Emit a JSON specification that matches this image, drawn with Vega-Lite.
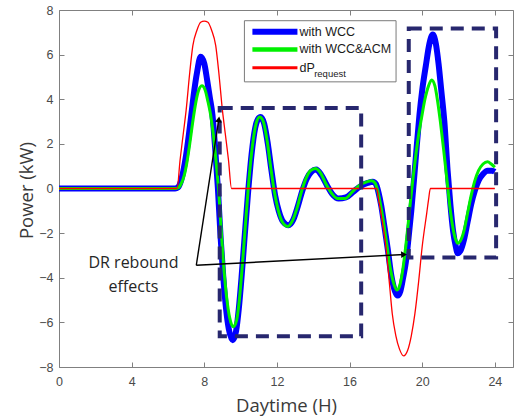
{
  "$schema": "https://vega.github.io/schema/vega-lite/v6.json",
  "width": 454,
  "height": 357,
  "autosize": {"type": "none"},
  "padding": {"left": 59, "top": 10, "right": 2, "bottom": 49},
  "background": "white",
  "config": {
    "view": {"stroke": "#808080", "strokeWidth": 1},
    "axis": {
      "grid": false,
      "domain": false,
      "tickColor": "#808080",
      "tickWidth": 1,
      "tickSize": -5,
      "labelFont": "Liberation Sans",
      "labelFontSize": 12.5,
      "labelColor": "#4a4a4a",
      "titleFont": "Open Sans",
      "titleFontSize": 18.5,
      "titleFontWeight": "normal",
      "titleColor": "#3a3a3a"
    }
  },
  "datasets": {
    "curves": [
      {"series": "with WCC", "t": 0, "p": 0}, {"series": "with WCC", "t": 6.4, "p": 0}, {"series": "with WCC", "t": 6.55, "p": 0.05}, {"series": "with WCC", "t": 6.7, "p": 0.3}, {"series": "with WCC", "t": 6.85, "p": 0.8}, {"series": "with WCC", "t": 7.0, "p": 1.5}, {"series": "with WCC", "t": 7.15, "p": 2.4}, {"series": "with WCC", "t": 7.3, "p": 3.4}, {"series": "with WCC", "t": 7.45, "p": 4.4}, {"series": "with WCC", "t": 7.6, "p": 5.2}, {"series": "with WCC", "t": 7.8, "p": 5.9}, {"series": "with WCC", "t": 8.0, "p": 5.6}, {"series": "with WCC", "t": 8.15, "p": 4.9}, {"series": "with WCC", "t": 8.3, "p": 4.1}, {"series": "with WCC", "t": 8.45, "p": 3.3}, {"series": "with WCC", "t": 8.6, "p": 1.8}, {"series": "with WCC", "t": 8.75, "p": 0.0}, {"series": "with WCC", "t": 8.9, "p": -2.2}, {"series": "with WCC", "t": 9.05, "p": -4.0}, {"series": "with WCC", "t": 9.2, "p": -5.4}, {"series": "with WCC", "t": 9.35, "p": -6.3}, {"series": "with WCC", "t": 9.57, "p": -6.8}, {"series": "with WCC", "t": 9.75, "p": -6.4}, {"series": "with WCC", "t": 9.9, "p": -5.4}, {"series": "with WCC", "t": 10.05, "p": -4.0}, {"series": "with WCC", "t": 10.2, "p": -2.4}, {"series": "with WCC", "t": 10.4, "p": -0.3}, {"series": "with WCC", "t": 10.6, "p": 1.5}, {"series": "with WCC", "t": 10.8, "p": 2.7}, {"series": "with WCC", "t": 10.95, "p": 3.1}, {"series": "with WCC", "t": 11.1, "p": 3.2}, {"series": "with WCC", "t": 11.3, "p": 2.9}, {"series": "with WCC", "t": 11.5, "p": 2.0}, {"series": "with WCC", "t": 11.7, "p": 0.8}, {"series": "with WCC", "t": 11.9, "p": -0.3}, {"series": "with WCC", "t": 12.1, "p": -1.0}, {"series": "with WCC", "t": 12.35, "p": -1.5}, {"series": "with WCC", "t": 12.64, "p": -1.65}, {"series": "with WCC", "t": 12.9, "p": -1.4}, {"series": "with WCC", "t": 13.15, "p": -0.8}, {"series": "with WCC", "t": 13.4, "p": -0.1}, {"series": "with WCC", "t": 13.65, "p": 0.45}, {"series": "with WCC", "t": 13.9, "p": 0.75}, {"series": "with WCC", "t": 14.16, "p": 0.85}, {"series": "with WCC", "t": 14.45, "p": 0.6}, {"series": "with WCC", "t": 14.75, "p": 0.15}, {"series": "with WCC", "t": 15.05, "p": -0.25}, {"series": "with WCC", "t": 15.4, "p": -0.45}, {"series": "with WCC", "t": 15.8, "p": -0.4}, {"series": "with WCC", "t": 16.2, "p": -0.15}, {"series": "with WCC", "t": 16.6, "p": 0.1}, {"series": "with WCC", "t": 17.0, "p": 0.25}, {"series": "with WCC", "t": 17.28, "p": 0.3}, {"series": "with WCC", "t": 17.45, "p": 0.2}, {"series": "with WCC", "t": 17.6, "p": -0.2}, {"series": "with WCC", "t": 17.75, "p": -0.8}, {"series": "with WCC", "t": 17.9, "p": -1.6}, {"series": "with WCC", "t": 18.1, "p": -2.7}, {"series": "with WCC", "t": 18.3, "p": -3.9}, {"series": "with WCC", "t": 18.5, "p": -4.6}, {"series": "with WCC", "t": 18.65, "p": -4.8}, {"series": "with WCC", "t": 18.8, "p": -4.6}, {"series": "with WCC", "t": 18.95, "p": -4.0}, {"series": "with WCC", "t": 19.1, "p": -3.3}, {"series": "with WCC", "t": 19.25, "p": -2.2}, {"series": "with WCC", "t": 19.4, "p": -1.0}, {"series": "with WCC", "t": 19.55, "p": 0.4}, {"series": "with WCC", "t": 19.7, "p": 1.9}, {"series": "with WCC", "t": 19.85, "p": 3.3}, {"series": "with WCC", "t": 20.0, "p": 4.4}, {"series": "with WCC", "t": 20.2, "p": 5.5}, {"series": "with WCC", "t": 20.4, "p": 6.5}, {"series": "with WCC", "t": 20.58, "p": 6.9}, {"series": "with WCC", "t": 20.75, "p": 6.5}, {"series": "with WCC", "t": 20.9, "p": 5.6}, {"series": "with WCC", "t": 21.05, "p": 4.4}, {"series": "with WCC", "t": 21.22, "p": 3.0}, {"series": "with WCC", "t": 21.4, "p": 0.8}, {"series": "with WCC", "t": 21.55, "p": -0.7}, {"series": "with WCC", "t": 21.7, "p": -1.9}, {"series": "with WCC", "t": 21.85, "p": -2.6}, {"series": "with WCC", "t": 21.95, "p": -2.9}, {"series": "with WCC", "t": 22.1, "p": -2.8}, {"series": "with WCC", "t": 22.3, "p": -2.3}, {"series": "with WCC", "t": 22.5, "p": -1.5}, {"series": "with WCC", "t": 22.7, "p": -0.7}, {"series": "with WCC", "t": 22.9, "p": -0.1}, {"series": "with WCC", "t": 23.1, "p": 0.35}, {"series": "with WCC", "t": 23.35, "p": 0.65}, {"series": "with WCC", "t": 23.6, "p": 0.8}, {"series": "with WCC", "t": 23.85, "p": 0.8}, {"series": "with WCC", "t": 24, "p": 0.75},

      {"series": "with WCC&ACM", "t": 0, "p": 0}, {"series": "with WCC&ACM", "t": 6.45, "p": 0}, {"series": "with WCC&ACM", "t": 6.6, "p": 0.05}, {"series": "with WCC&ACM", "t": 6.75, "p": 0.25}, {"series": "with WCC&ACM", "t": 6.9, "p": 0.6}, {"series": "with WCC&ACM", "t": 7.05, "p": 1.2}, {"series": "with WCC&ACM", "t": 7.2, "p": 2.0}, {"series": "with WCC&ACM", "t": 7.35, "p": 2.9}, {"series": "with WCC&ACM", "t": 7.5, "p": 3.7}, {"series": "with WCC&ACM", "t": 7.65, "p": 4.3}, {"series": "with WCC&ACM", "t": 7.87, "p": 4.6}, {"series": "with WCC&ACM", "t": 8.05, "p": 4.4}, {"series": "with WCC&ACM", "t": 8.2, "p": 3.9}, {"series": "with WCC&ACM", "t": 8.35, "p": 3.3}, {"series": "with WCC&ACM", "t": 8.5, "p": 2.4}, {"series": "with WCC&ACM", "t": 8.65, "p": 1.2}, {"series": "with WCC&ACM", "t": 8.8, "p": -0.2}, {"series": "with WCC&ACM", "t": 8.95, "p": -2.1}, {"series": "with WCC&ACM", "t": 9.1, "p": -3.8}, {"series": "with WCC&ACM", "t": 9.25, "p": -5.0}, {"series": "with WCC&ACM", "t": 9.4, "p": -5.8}, {"series": "with WCC&ACM", "t": 9.6, "p": -6.2}, {"series": "with WCC&ACM", "t": 9.78, "p": -5.9}, {"series": "with WCC&ACM", "t": 9.93, "p": -5.0}, {"series": "with WCC&ACM", "t": 10.08, "p": -3.6}, {"series": "with WCC&ACM", "t": 10.25, "p": -1.8}, {"series": "with WCC&ACM", "t": 10.45, "p": 0.3}, {"series": "with WCC&ACM", "t": 10.65, "p": 1.9}, {"series": "with WCC&ACM", "t": 10.85, "p": 2.9}, {"series": "with WCC&ACM", "t": 11.05, "p": 3.2}, {"series": "with WCC&ACM", "t": 11.25, "p": 3.0}, {"series": "with WCC&ACM", "t": 11.45, "p": 2.2}, {"series": "with WCC&ACM", "t": 11.65, "p": 1.0}, {"series": "with WCC&ACM", "t": 11.85, "p": -0.1}, {"series": "with WCC&ACM", "t": 12.05, "p": -0.9}, {"series": "with WCC&ACM", "t": 12.3, "p": -1.5}, {"series": "with WCC&ACM", "t": 12.6, "p": -1.7}, {"series": "with WCC&ACM", "t": 12.85, "p": -1.45}, {"series": "with WCC&ACM", "t": 13.1, "p": -0.9}, {"series": "with WCC&ACM", "t": 13.35, "p": -0.15}, {"series": "with WCC&ACM", "t": 13.6, "p": 0.45}, {"series": "with WCC&ACM", "t": 13.85, "p": 0.8}, {"series": "with WCC&ACM", "t": 14.12, "p": 0.9}, {"series": "with WCC&ACM", "t": 14.4, "p": 0.7}, {"series": "with WCC&ACM", "t": 14.7, "p": 0.2}, {"series": "with WCC&ACM", "t": 15.0, "p": -0.2}, {"series": "with WCC&ACM", "t": 15.35, "p": -0.45}, {"series": "with WCC&ACM", "t": 15.75, "p": -0.45}, {"series": "with WCC&ACM", "t": 16.15, "p": -0.15}, {"series": "with WCC&ACM", "t": 16.55, "p": 0.15}, {"series": "with WCC&ACM", "t": 16.95, "p": 0.3}, {"series": "with WCC&ACM", "t": 17.22, "p": 0.35}, {"series": "with WCC&ACM", "t": 17.4, "p": 0.25}, {"series": "with WCC&ACM", "t": 17.55, "p": -0.1}, {"series": "with WCC&ACM", "t": 17.7, "p": -0.7}, {"series": "with WCC&ACM", "t": 17.85, "p": -1.4}, {"series": "with WCC&ACM", "t": 18.05, "p": -2.5}, {"series": "with WCC&ACM", "t": 18.25, "p": -3.6}, {"series": "with WCC&ACM", "t": 18.45, "p": -4.3}, {"series": "with WCC&ACM", "t": 18.62, "p": -4.55}, {"series": "with WCC&ACM", "t": 18.78, "p": -4.3}, {"series": "with WCC&ACM", "t": 18.92, "p": -3.7}, {"series": "with WCC&ACM", "t": 19.05, "p": -2.9}, {"series": "with WCC&ACM", "t": 19.2, "p": -1.8}, {"series": "with WCC&ACM", "t": 19.35, "p": -0.6}, {"series": "with WCC&ACM", "t": 19.5, "p": 0.5}, {"series": "with WCC&ACM", "t": 19.65, "p": 1.5}, {"series": "with WCC&ACM", "t": 19.8, "p": 2.4}, {"series": "with WCC&ACM", "t": 19.95, "p": 3.1}, {"series": "with WCC&ACM", "t": 20.15, "p": 4.0}, {"series": "with WCC&ACM", "t": 20.35, "p": 4.6}, {"series": "with WCC&ACM", "t": 20.52, "p": 4.86}, {"series": "with WCC&ACM", "t": 20.7, "p": 4.6}, {"series": "with WCC&ACM", "t": 20.85, "p": 3.9}, {"series": "with WCC&ACM", "t": 21.0, "p": 3.0}, {"series": "with WCC&ACM", "t": 21.2, "p": 1.6}, {"series": "with WCC&ACM", "t": 21.4, "p": 0.1}, {"series": "with WCC&ACM", "t": 21.55, "p": -1.0}, {"series": "with WCC&ACM", "t": 21.7, "p": -1.8}, {"series": "with WCC&ACM", "t": 21.85, "p": -2.3}, {"series": "with WCC&ACM", "t": 21.95, "p": -2.45}, {"series": "with WCC&ACM", "t": 22.1, "p": -2.35}, {"series": "with WCC&ACM", "t": 22.3, "p": -1.9}, {"series": "with WCC&ACM", "t": 22.5, "p": -1.1}, {"series": "with WCC&ACM", "t": 22.7, "p": -0.3}, {"series": "with WCC&ACM", "t": 22.9, "p": 0.35}, {"series": "with WCC&ACM", "t": 23.1, "p": 0.8}, {"series": "with WCC&ACM", "t": 23.35, "p": 1.1}, {"series": "with WCC&ACM", "t": 23.6, "p": 1.2}, {"series": "with WCC&ACM", "t": 23.8, "p": 1.1}, {"series": "with WCC&ACM", "t": 24, "p": 0.95},

      {"series": "dPrequest", "t": 0, "p": 0}, {"series": "dPrequest", "t": 6.5, "p": 0}, {"series": "dPrequest", "t": 6.67, "p": 1.3}, {"series": "dPrequest", "t": 6.85, "p": 2.5}, {"series": "dPrequest", "t": 7.0, "p": 3.5}, {"series": "dPrequest", "t": 7.2, "p": 5.2}, {"series": "dPrequest", "t": 7.37, "p": 6.4}, {"series": "dPrequest", "t": 7.6, "p": 7.1}, {"series": "dPrequest", "t": 7.8, "p": 7.45}, {"series": "dPrequest", "t": 8.0, "p": 7.5}, {"series": "dPrequest", "t": 8.2, "p": 7.45}, {"series": "dPrequest", "t": 8.4, "p": 7.1}, {"series": "dPrequest", "t": 8.63, "p": 6.4}, {"series": "dPrequest", "t": 8.8, "p": 5.2}, {"series": "dPrequest", "t": 9.0, "p": 3.5}, {"series": "dPrequest", "t": 9.15, "p": 2.5}, {"series": "dPrequest", "t": 9.33, "p": 1.3}, {"series": "dPrequest", "t": 9.5, "p": 0}, {"series": "dPrequest", "t": 17.5, "p": 0}, {"series": "dPrequest", "t": 17.6, "p": -0.5}, {"series": "dPrequest", "t": 17.75, "p": -1.2}, {"series": "dPrequest", "t": 18.0, "p": -2.6}, {"series": "dPrequest", "t": 18.2, "p": -4.3}, {"series": "dPrequest", "t": 18.35, "p": -5.6}, {"series": "dPrequest", "t": 18.55, "p": -6.6}, {"series": "dPrequest", "t": 18.75, "p": -7.2}, {"series": "dPrequest", "t": 18.98, "p": -7.5}, {"series": "dPrequest", "t": 19.2, "p": -7.25}, {"series": "dPrequest", "t": 19.4, "p": -6.6}, {"series": "dPrequest", "t": 19.6, "p": -5.6}, {"series": "dPrequest", "t": 19.8, "p": -4.2}, {"series": "dPrequest", "t": 20.0, "p": -2.6}, {"series": "dPrequest", "t": 20.25, "p": -1.1}, {"series": "dPrequest", "t": 20.35, "p": -0.5}, {"series": "dPrequest", "t": 20.45, "p": 0}, {"series": "dPrequest", "t": 24, "p": 0}
    ],
    "boxes": [
      {"x0": 8.85, "x1": 16.64, "y0": -6.62, "y1": 3.61},
      {"x0": 19.26, "x1": 24.07, "y0": -3.09, "y1": 7.17}
    ],
    "arrows": [
      {"id": "a1", "x0": 7.56, "y0": -3.44, "x1": 8.8, "y1": 3.1},
      {"id": "a2", "x0": 7.56, "y0": -3.44, "x1": 19.0, "y1": -2.96}
    ],
    "notes": [
      {"x": 4.1, "y": -3.36, "label": "DR rebound"},
      {"x": 4.1, "y": -4.43, "label": "effects"}
    ],
    "legendbox": [
      {"x0": 10.21, "x1": 18.56, "y0": 4.78, "y1": 7.52}
    ],
    "legendrows": [
      {"series": "with WCC", "x0": 10.65, "x1": 13.13, "y": 7.02, "tx": 13.24, "label": "with WCC"},
      {"series": "with WCC&ACM", "x0": 10.65, "x1": 13.13, "y": 6.23, "tx": 13.24, "label": "with WCC&ACM"},
      {"series": "dPrequest", "x0": 10.65, "x1": 13.13, "y": 5.41, "tx": 13.24, "label": "dP"}
    ],
    "subscript": [
      {"x": 14.05, "y": 5.13, "label": "request"}
    ]
  },
  "resolve": {"axis": {"x": "independent", "y": "independent"}},
  "layer": [
    {
      "data": {"name": "curves"},
      "transform": [{"filter": "datum.series === 'with WCC'"}],
      "mark": {"type": "line", "color": "#0000ff", "strokeWidth": 6, "interpolate": "monotone", "strokeJoin": "round", "strokeCap": "butt"},
      "encoding": {
        "x": {"field": "t", "type": "quantitative", "scale": {"domain": [0, 25], "nice": false, "zero": false},
          "axis": {"orient": "bottom", "values": [0, 4, 8, 12, 16, 20, 24], "title": "Daytime (H)", "labelPadding": 13, "labelFlush": false, "titleY": 44, "titleBaseline": "alphabetic", "titleX": 227}},
        "y": {"field": "p", "type": "quantitative", "scale": {"domain": [-8, 8], "nice": false, "zero": false},
          "axis": {"orient": "left", "values": [-8, -6, -4, -2, 0, 2, 4, 6, 8], "title": "Power (kW)", "labelPadding": 11, "titleX": -27, "titleY": 180, "titleAngle": -90, "titleAlign": "center", "titleBaseline": "alphabetic"}}
      }
    },
    {
      "data": {"name": "curves"},
      "transform": [{"filter": "datum.series === 'with WCC&ACM'"}],
      "mark": {"type": "line", "color": "#00f000", "strokeWidth": 3, "interpolate": "monotone", "strokeJoin": "round"},
      "encoding": {
        "x": {"field": "t", "type": "quantitative", "scale": {"domain": [0, 25], "nice": false, "zero": false}, "axis": null},
        "y": {"field": "p", "type": "quantitative", "scale": {"domain": [-8, 8], "nice": false, "zero": false}, "axis": null}
      }
    },
    {
      "data": {"name": "curves"},
      "transform": [{"filter": "datum.series === 'dPrequest'"}],
      "mark": {"type": "line", "color": "#ff0000", "strokeWidth": 1.3, "interpolate": "monotone"},
      "encoding": {
        "x": {"field": "t", "type": "quantitative", "scale": {"domain": [0, 25], "nice": false, "zero": false}, "axis": null},
        "y": {"field": "p", "type": "quantitative", "scale": {"domain": [-8, 8], "nice": false, "zero": false}, "axis": null}
      }
    },
    {
      "data": {"name": "boxes"},
      "mark": {"type": "rect", "fill": null, "fillOpacity": 0, "stroke": "#27276e", "strokeWidth": 4, "strokeDash": [13, 8]},
      "encoding": {
        "x": {"field": "x0", "type": "quantitative", "scale": {"domain": [0, 25], "nice": false, "zero": false},
          "axis": {"orient": "top", "values": [0, 4, 8, 12, 16, 20, 24], "labels": false, "title": null}},
        "x2": {"field": "x1"},
        "y": {"field": "y0", "type": "quantitative", "scale": {"domain": [-8, 8], "nice": false, "zero": false},
          "axis": {"orient": "right", "values": [-8, -6, -4, -2, 0, 2, 4, 6, 8], "labels": false, "title": null}},
        "y2": {"field": "y1"}
      }
    },
    {
      "data": {"name": "arrows"},
      "mark": {"type": "rule", "color": "#000000", "strokeWidth": 1.4},
      "encoding": {
        "x": {"field": "x0", "type": "quantitative", "scale": {"domain": [0, 25], "nice": false, "zero": false}, "axis": null},
        "x2": {"field": "x1"},
        "y": {"field": "y0", "type": "quantitative", "scale": {"domain": [-8, 8], "nice": false, "zero": false}, "axis": null},
        "y2": {"field": "y1"}
      }
    },
    {
      "data": {"name": "arrows"},
      "transform": [{"filter": "datum.id === 'a1'"}],
      "mark": {"type": "point", "shape": "triangle-up", "filled": true, "color": "#000000", "opacity": 1, "size": 45, "angle": 8.6},
      "encoding": {
        "x": {"field": "x1", "type": "quantitative", "scale": {"domain": [0, 25], "nice": false, "zero": false}, "axis": null},
        "y": {"field": "y1", "type": "quantitative", "scale": {"domain": [-8, 8], "nice": false, "zero": false}, "axis": null}
      }
    },
    {
      "data": {"name": "arrows"},
      "transform": [{"filter": "datum.id === 'a2'"}],
      "mark": {"type": "point", "shape": "triangle-up", "filled": true, "color": "#000000", "opacity": 1, "size": 45, "angle": 87},
      "encoding": {
        "x": {"field": "x1", "type": "quantitative", "scale": {"domain": [0, 25], "nice": false, "zero": false}, "axis": null},
        "y": {"field": "y1", "type": "quantitative", "scale": {"domain": [-8, 8], "nice": false, "zero": false}, "axis": null}
      }
    },
    {
      "data": {"name": "notes"},
      "mark": {"type": "text", "font": "Open Sans", "fontSize": 16, "color": "#262626", "align": "center", "baseline": "middle"},
      "encoding": {
        "x": {"field": "x", "type": "quantitative", "scale": {"domain": [0, 25], "nice": false, "zero": false}, "axis": null},
        "y": {"field": "y", "type": "quantitative", "scale": {"domain": [-8, 8], "nice": false, "zero": false}, "axis": null},
        "text": {"field": "label"}
      }
    },
    {
      "data": {"name": "legendbox"},
      "mark": {"type": "rect", "fill": "#ffffff", "stroke": "#7a7a7a", "strokeWidth": 1},
      "encoding": {
        "x": {"field": "x0", "type": "quantitative", "scale": {"domain": [0, 25], "nice": false, "zero": false}, "axis": null},
        "x2": {"field": "x1"},
        "y": {"field": "y0", "type": "quantitative", "scale": {"domain": [-8, 8], "nice": false, "zero": false}, "axis": null},
        "y2": {"field": "y1"}
      }
    },
    {
      "data": {"name": "legendrows"},
      "mark": {"type": "rule"},
      "encoding": {
        "x": {"field": "x0", "type": "quantitative", "scale": {"domain": [0, 25], "nice": false, "zero": false}, "axis": null},
        "x2": {"field": "x1"},
        "y": {"field": "y", "type": "quantitative", "scale": {"domain": [-8, 8], "nice": false, "zero": false}, "axis": null},
        "color": {"field": "series", "type": "nominal", "scale": {"domain": ["with WCC", "with WCC&ACM", "dPrequest"], "range": ["#0000ff", "#00f000", "#ff0000"]}, "legend": null},
        "strokeWidth": {"field": "series", "type": "nominal", "scale": {"domain": ["with WCC", "with WCC&ACM", "dPrequest"], "range": [6, 3, 1.3]}, "legend": null}
      }
    },
    {
      "data": {"name": "legendrows"},
      "mark": {"type": "text", "font": "Liberation Sans", "fontSize": 12.5, "color": "#1a1a1a", "align": "left", "baseline": "middle"},
      "encoding": {
        "x": {"field": "tx", "type": "quantitative", "scale": {"domain": [0, 25], "nice": false, "zero": false}, "axis": null},
        "y": {"field": "y", "type": "quantitative", "scale": {"domain": [-8, 8], "nice": false, "zero": false}, "axis": null},
        "text": {"field": "label"}
      }
    },
    {
      "data": {"name": "subscript"},
      "mark": {"type": "text", "font": "Liberation Sans", "fontSize": 9.5, "color": "#1a1a1a", "align": "left", "baseline": "middle"},
      "encoding": {
        "x": {"field": "x", "type": "quantitative", "scale": {"domain": [0, 25], "nice": false, "zero": false}, "axis": null},
        "y": {"field": "y", "type": "quantitative", "scale": {"domain": [-8, 8], "nice": false, "zero": false}, "axis": null},
        "text": {"field": "label"}
      }
    }
  ]
}
